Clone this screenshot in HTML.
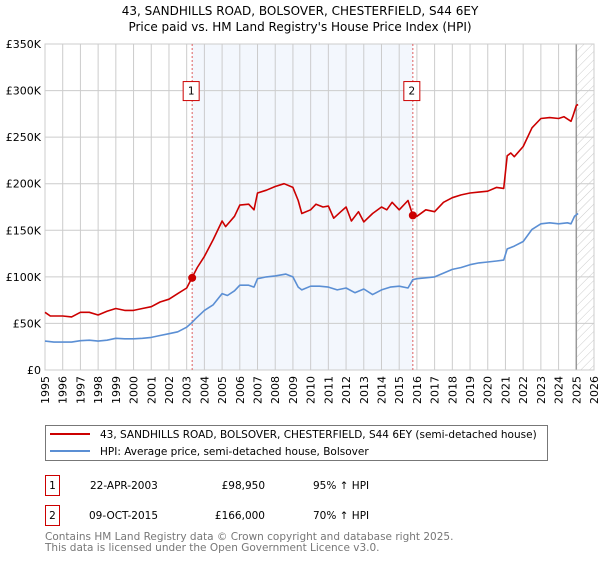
<!DOCTYPE html>
<html><head><meta charset="utf-8"><style>
body{margin:0;background:#fff;font-family:"Liberation Sans","DejaVu Sans",sans-serif;}
svg text{font-family:"DejaVu Sans","Liberation Sans",sans-serif;}
</style></head><body>
<svg id="c" width="600" height="560" viewBox="0 0 600 560" xmlns="http://www.w3.org/2000/svg">
<defs>
<pattern id="hatch" width="6" height="6" patternUnits="userSpaceOnUse" patternTransform="rotate(45)">
<line x1="0" y1="0" x2="0" y2="6" stroke="#ccc" stroke-width="1"/></pattern>
</defs>
<text x="300" y="15" text-anchor="middle" font-size="12" fill="#000">43, SANDHILLS ROAD, BOLSOVER, CHESTERFIELD, S44 6EY</text>
<text x="300" y="31" text-anchor="middle" font-size="12" fill="#000">Price paid vs. HM Land Registry's House Price Index (HPI)</text>
<g id="plot"></g>
<g id="legend">
<rect x="45.5" y="425.5" width="502" height="35" fill="#fff" stroke="#777"/>
<line x1="50" y1="434" x2="90" y2="434" stroke="#cc0000" stroke-width="2"/>
<text x="100" y="438" font-size="10.5">43, SANDHILLS ROAD, BOLSOVER, CHESTERFIELD, S44 6EY (semi-detached house)</text>
<line x1="50" y1="451" x2="90" y2="451" stroke="#5b8fd4" stroke-width="2"/>
<text x="100" y="455" font-size="10.5">HPI: Average price, semi-detached house, Bolsover</text>
</g>
<g>
<rect x="45.5" y="475.5" width="14" height="20" fill="#fff" stroke="#cc0000"/>
<text x="52.5" y="489" text-anchor="middle" font-size="10.5">1</text>
<text x="90" y="489" font-size="10.5">22-APR-2003</text>
<text x="265" y="489" text-anchor="end" font-size="10.5">£98,950</text>
<text x="313" y="489" font-size="10.5">95% ↑ HPI</text>
</g>
<g>
<rect x="45.5" y="505.5" width="14" height="20" fill="#fff" stroke="#cc0000"/>
<text x="52.5" y="519" text-anchor="middle" font-size="10.5">2</text>
<text x="89" y="519" font-size="10.5">09-OCT-2015</text>
<text x="265" y="519" text-anchor="end" font-size="10.5">£166,000</text>
<text x="313" y="519" font-size="10.5">70% ↑ HPI</text>
</g>
<text x="45" y="540" font-size="10.5" fill="#777">Contains HM Land Registry data © Crown copyright and database right 2025.</text>
<text x="45" y="551" font-size="10.5" fill="#777">This data is licensed under the Open Government Licence v3.0.</text>
</svg>
<script>
const hpiYears=[1995,1995.5,1996,1996.5,1997,1997.5,1998,1998.5,1999,1999.5,2000,2000.5,2001,2001.5,2002,2002.5,2003,2003.3,2003.5,2004,2004.5,2005,2005.3,2005.7,2006,2006.5,2006.8,2007,2007.5,2008,2008.6,2009,2009.3,2009.5,2010,2010.5,2011,2011.5,2012,2012.5,2013,2013.5,2014,2014.5,2015,2015.5,2015.77,2016,2016.5,2017,2017.5,2018,2018.5,2019,2019.5,2020,2020.5,2020.9,2021.1,2021.5,2022,2022.5,2023,2023.5,2024,2024.5,2024.7,2024.9,2025.1];
const hpiValues=[31,30,30,30,31.5,32,31,32,34,33.5,33.5,34,35,37,39,41,46,51,55,64,70,82,80,85,91,91,89,98,100,101,103,100,89,86,90,90,89,86,88,83,87,81,86,89,90,88,97,98,99,100,104,108,110,113,115,116,117,118,130,133,138,151,157,158,157,158,157,165,168];
const priceYears=[1995,1995.3,1996,1996.5,1997,1997.5,1998,1998.5,1999,1999.5,2000,2000.5,2001,2001.5,2002,2002.5,2003,2003.3,2003.6,2004,2004.5,2005,2005.2,2005.7,2006,2006.5,2006.8,2007,2007.5,2008,2008.5,2009,2009.3,2009.5,2010,2010.3,2010.7,2011,2011.3,2011.7,2012,2012.3,2012.7,2013,2013.5,2014,2014.3,2014.6,2015,2015.5,2015.77,2016,2016.5,2017,2017.5,2018,2018.5,2019,2019.5,2020,2020.5,2020.9,2021.1,2021.3,2021.5,2022,2022.5,2023,2023.5,2024,2024.3,2024.7,2024.8,2025,2025.1];
const priceValues=[62,58,58,57,62,62,59,63,66,64,64,66,68,73,76,82,88,98.95,110,122,140,160,154,165,177,178,172,190,193,197,200,196,182,168,172,178,175,176,163,170,175,160,170,159,168,175,172,180,172,182,166,165,172,170,180,185,188,190,191,192,196,195,230,233,229,240,260,270,271,270,272,267,272,284,285];
const saleYears=[2003.31,2015.77];
const saleValues=[98.95,166];
const saleLabels=["1","2"];
const yTicks=[0,50,100,150,200,250,300,350];
const yTickLabels=["£0","£50K","£100K","£150K","£200K","£250K","£300K","£350K"];
const xTicks=[1995,1996,1997,1998,1999,2000,2001,2002,2003,2004,2005,2006,2007,2008,2009,2010,2011,2012,2013,2014,2015,2016,2017,2018,2019,2020,2021,2022,2023,2024,2025,2026];

const X0=45,X1=594,Y0=370,Y1=44;
const xs=y=>X0+(y-1995)/(2026-1995)*(X1-X0);
const ys=v=>Y0-v/350*(Y0-Y1);
const NS="http://www.w3.org/2000/svg";
const g=document.getElementById('plot');
function mk(t,a){const e=document.createElementNS(NS,t);for(const k in a)e.setAttribute(k,a[k]);g.appendChild(e);return e;}
// shaded region
let r=mk('rect',{x:xs(saleYears[0]),y:Y1,width:xs(saleYears[1])-xs(saleYears[0]),height:Y0-Y1,fill:'#eef3fc',opacity:0.7});


// hatch future
let h=mk('rect',{x:xs(2025),y:Y1,width:X1-xs(2025),height:Y0-Y1,fill:'url(#hatch)'});


xTicks.forEach((t,i)=>{
  let l=mk('line',{x1:xs(t),x2:xs(t),y1:Y1,y2:Y0,stroke:'#ccc','stroke-width':1});
  
  
  let tx=mk('text',{x:0,y:0,'font-size':11,'text-anchor':'end',transform:`translate(${xs(t)+4},${Y0+6}) rotate(-90)`});
  tx.textContent=t;
  
  
});
yTicks.forEach((t,i)=>{
  let l=mk('line',{x1:X0,x2:X1,y1:ys(t),y2:ys(t),stroke:'#ccc','stroke-width':1});
  
  
  let tx=mk('text',{x:X0-4,y:ys(t)+4,'font-size':11,'text-anchor':'end'});
  tx.textContent=yTickLabels[i];
  
  
});
let vl=mk('line',{x1:xs(2025),x2:xs(2025),y1:Y1,y2:Y0,stroke:'#999','stroke-width':1.5});


let fr=mk('rect',{x:X0,y:Y1,width:X1-X0,height:Y0-Y1,fill:'none',stroke:'#ccc'});


saleYears.forEach((s,i)=>{
  let l=mk('line',{x1:xs(s),x2:xs(s),y1:Y1,y2:Y0,stroke:'#e06060','stroke-width':1,'stroke-dasharray':'2,2'});
  
  
  let b=mk('rect',{x:xs(s)-9,y:ys(300)-9,width:16,height:19,fill:'#fff',stroke:'#cc0000'});
  
  
  let t=mk('text',{x:xs(s)-1,y:ys(300)+4,'font-size':10.5,'text-anchor':'middle'});
  t.textContent=saleLabels[i];
  
  
});
function line(xa,va,col,name){
  let p=mk('polyline',{points:xa.map((x,i)=>xs(x).toFixed(1)+','+ys(va[i]).toFixed(1)).join(' '),fill:'none',stroke:col,'stroke-width':1.6,'stroke-linejoin':'round'});
  
  
}
line(hpiYears,hpiValues,'#5b8fd4','hpi-line');
line(priceYears,priceValues,'#cc0000','price-line');
saleYears.forEach((s,i)=>{
  let c=mk('circle',{cx:xs(s),cy:ys(saleValues[i]),r:4,fill:'#cc0000'});
  
  
});
</script>
</body></html>
